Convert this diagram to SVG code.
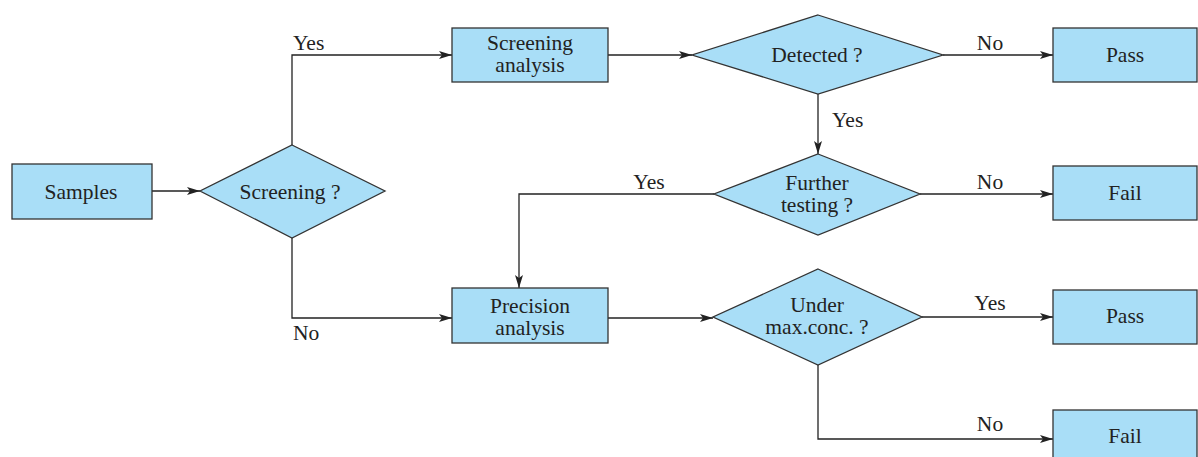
<svg xmlns="http://www.w3.org/2000/svg" width="1198" height="457" viewBox="0 0 1198 457">
<defs>
<style>
.n{fill:#a9def7;stroke:#333;stroke-width:1.3}
.t{font-family:"Liberation Serif","Times New Roman",serif;font-size:21.5px;fill:#222;text-anchor:middle}
.l{font-family:"Liberation Serif","Times New Roman",serif;font-size:21.5px;fill:#222}
.c{fill:none;stroke:#222;stroke-width:1.3}
</style>
<marker id="a" markerWidth="14" markerHeight="10" refX="13" refY="5" orient="auto" markerUnits="userSpaceOnUse">
<path d="M0,1 L13,5 L0,9 L3,5 Z" fill="#222"/>
</marker>
</defs>
<g id="connectors">
<path class="c" d="M152,191 H200" marker-end="url(#a)"/>
<path class="c" d="M292,145 V55 H452" marker-end="url(#a)"/>
<path class="c" d="M292,238 V318 H452" marker-end="url(#a)"/>
<path class="c" d="M608,55 H692" marker-end="url(#a)"/>
<path class="c" d="M943,55 H1053" marker-end="url(#a)"/>
<path class="c" d="M818,94 V154" marker-end="url(#a)"/>
<path class="c" d="M920,194 H1053" marker-end="url(#a)"/>
<path class="c" d="M714,194 H519 V288" marker-end="url(#a)"/>
<path class="c" d="M608,318 H713" marker-end="url(#a)"/>
<path class="c" d="M922,317 H1053" marker-end="url(#a)"/>
<path class="c" d="M818,365 V439 H1053" marker-end="url(#a)"/>
<text class="l" x="293" y="50">Yes</text>
<text class="l" x="293" y="340">No</text>
<text class="t" x="990" y="50">No</text>
<text class="l" x="832" y="127">Yes</text>
<text class="t" x="649" y="189">Yes</text>
<text class="t" x="990" y="189">No</text>
<text class="t" x="990" y="310">Yes</text>
<text class="t" x="990" y="431">No</text>
</g>
<g id="samples">
<rect class="n" x="12" y="164" width="140" height="55"/>
<text class="t" x="81" y="199">Samples</text>
</g>
<g id="screening">
<polygon class="n" points="292,145 385,191 292,238 200,191"/>
<text class="t" x="290" y="199">Screening ?</text>
</g>
<g id="screening-analysis">
<rect class="n" x="452" y="28" width="156" height="54"/>
<text class="t" x="530" y="50">Screening</text>
<text class="t" x="530" y="72">analysis</text>
</g>
<g id="detected">
<polygon class="n" points="818,15 943,55 818,94 692,55"/>
<text class="t" x="817" y="62">Detected ?</text>
</g>
<g id="pass1">
<rect class="n" x="1053" y="28" width="144" height="54"/>
<text class="t" x="1125" y="62">Pass</text>
</g>
<g id="further">
<polygon class="n" points="818,154 920,194 818,235 714,194"/>
<text class="t" x="817" y="190">Further</text>
<text class="t" x="817" y="212">testing ?</text>
</g>
<g id="fail1">
<rect class="n" x="1053" y="166" width="144" height="54"/>
<text class="t" x="1125" y="200">Fail</text>
</g>
<g id="precision">
<rect class="n" x="452" y="288" width="156" height="55"/>
<text class="t" x="530" y="313">Precision</text>
<text class="t" x="530" y="335">analysis</text>
</g>
<g id="under">
<polygon class="n" points="818,269 922,317 818,365 713,317"/>
<text class="t" x="817" y="312">Under</text>
<text class="t" x="817" y="334">max.conc. ?</text>
</g>
<g id="pass2">
<rect class="n" x="1053" y="290" width="144" height="54"/>
<text class="t" x="1125" y="323">Pass</text>
</g>
<g id="fail2">
<rect class="n" x="1053" y="410" width="144" height="60"/>
<text class="t" x="1125" y="443">Fail</text>
</g>
</svg>
